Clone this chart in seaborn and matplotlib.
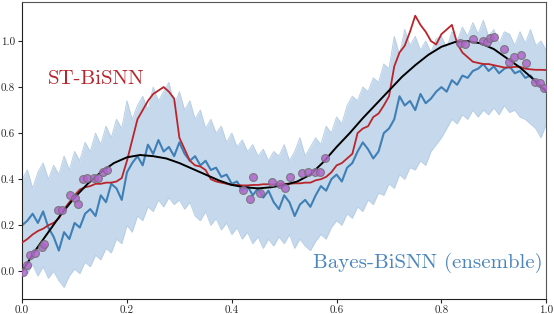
import numpy as np
import matplotlib.pyplot as plt
import seaborn as sns

# time axis shared by the network outputs
t = np.linspace(0, 1, 101)

# target function (black curve)
target_x = [0.000, 0.025, 0.050, 0.075, 0.100, 0.125, 0.150, 0.175, 0.200, 0.225,
            0.250, 0.275, 0.300, 0.325, 0.350, 0.375, 0.400, 0.425, 0.450, 0.475,
            0.500, 0.525, 0.550, 0.575, 0.600, 0.625, 0.650, 0.675, 0.700, 0.725,
            0.750, 0.775, 0.800, 0.825, 0.850, 0.875, 0.900, 0.925, 0.950, 0.975, 1.000]
target_y = [0.00, 0.09, 0.17, 0.25, 0.32, 0.38, 0.43, 0.47, 0.495, 0.505,
            0.50, 0.49, 0.47, 0.445, 0.42, 0.395, 0.375, 0.365, 0.36, 0.365,
            0.375, 0.39, 0.42, 0.475, 0.54, 0.60, 0.665, 0.725, 0.785, 0.845,
            0.895, 0.94, 0.975, 0.995, 1.00, 0.99, 0.965, 0.925, 0.885, 0.835, 0.78]

# training samples (purple circles)
pts_x = [0.002, 0.009, 0.015, 0.025, 0.038, 0.042, 0.069, 0.076, 0.092, 0.100,
         0.106, 0.117, 0.123, 0.138, 0.144, 0.155, 0.162,
         0.422, 0.435, 0.441, 0.453, 0.477, 0.492, 0.502, 0.511, 0.534, 0.546,
         0.559, 0.569, 0.578,
         0.836, 0.845, 0.861, 0.879, 0.887, 0.893, 0.901, 0.920, 0.928, 0.939,
         0.952, 0.962, 0.979, 0.989, 0.995]
pts_y = [-0.003, 0.026, 0.070, 0.078, 0.106, 0.117, 0.265, 0.265, 0.330, 0.320,
         0.294, 0.400, 0.403, 0.403, 0.407, 0.432, 0.442,
         0.355, 0.316, 0.410, 0.340, 0.388, 0.377, 0.360, 0.410, 0.427, 0.432,
         0.432, 0.432, 0.494,
         0.990, 0.987, 1.007, 1.001, 0.997, 1.012, 1.019, 0.964, 0.910, 0.929,
         0.939, 0.906, 0.823, 0.816, 0.794]

# ST-BiSNN output
st_bisnn = [0.125, 0.14, 0.16, 0.175, 0.185, 0.20, 0.21, 0.23, 0.27, 0.30,
            0.33, 0.355, 0.365, 0.37, 0.38, 0.38, 0.385, 0.385, 0.39, 0.405,
            0.48, 0.57, 0.66, 0.70, 0.74, 0.77, 0.785, 0.80, 0.78, 0.75,
            0.58, 0.53, 0.48, 0.46, 0.455, 0.44, 0.40, 0.39, 0.385, 0.38,
            0.375, 0.375, 0.373, 0.373, 0.375, 0.375, 0.378, 0.378, 0.377, 0.38,
            0.38, 0.38, 0.382, 0.382, 0.385, 0.385, 0.395, 0.40, 0.41, 0.43,
            0.46, 0.47, 0.49, 0.51, 0.60, 0.62, 0.63, 0.67, 0.685, 0.72,
            0.76, 0.89, 0.95, 0.98, 1.04, 1.11, 1.07, 1.04, 1.00, 0.985,
            1.03, 1.05, 1.07, 0.99, 0.95, 0.93, 0.91, 0.905, 0.90, 0.90,
            0.895, 0.89, 0.885, 0.885, 0.888, 0.888, 0.88, 0.877, 0.875, 0.875, 0.874]

# Bayes-BiSNN ensemble mean
bayes_mean = [0.20, 0.22, 0.25, 0.21, 0.26, 0.19, 0.15, 0.09, 0.17, 0.14,
              0.21, 0.19, 0.25, 0.27, 0.24, 0.33, 0.30, 0.38, 0.36, 0.31,
              0.43, 0.47, 0.50, 0.46, 0.55, 0.51, 0.57, 0.52, 0.54, 0.50,
              0.56, 0.51, 0.48, 0.50, 0.46, 0.48, 0.44, 0.45, 0.41, 0.42,
              0.38, 0.39, 0.35, 0.37, 0.33, 0.36, 0.32, 0.35, 0.30, 0.27,
              0.33, 0.30, 0.24, 0.29, 0.31, 0.28, 0.33, 0.37, 0.35, 0.40,
              0.42, 0.39, 0.45, 0.47, 0.52, 0.56, 0.53, 0.49, 0.52, 0.60,
              0.62, 0.66, 0.76, 0.72, 0.74, 0.70, 0.77, 0.73, 0.75, 0.78,
              0.80, 0.78, 0.83, 0.81, 0.85, 0.84, 0.87, 0.88, 0.90, 0.87,
              0.89, 0.86, 0.88, 0.89, 0.86, 0.87, 0.84, 0.85, 0.82, 0.80, 0.79]

# spread of the ensemble members
ens_hi = [0.40, 0.44, 0.36, 0.43, 0.47, 0.40, 0.46, 0.42, 0.50, 0.44,
          0.52, 0.48, 0.56, 0.52, 0.60, 0.55, 0.63, 0.58, 0.66, 0.62,
          0.74, 0.66, 0.72, 0.76, 0.70, 0.80, 0.74, 0.78, 0.82, 0.72,
          0.78, 0.70, 0.74, 0.66, 0.70, 0.62, 0.66, 0.60, 0.63, 0.56,
          0.60, 0.54, 0.57, 0.52, 0.55, 0.50, 0.53, 0.48, 0.52, 0.50,
          0.55, 0.48, 0.52, 0.58, 0.50, 0.54, 0.58, 0.55, 0.63, 0.60,
          0.67, 0.64, 0.72, 0.76, 0.74, 0.80, 0.78, 0.84, 0.82, 0.90,
          0.88, 1.02, 0.94, 1.05, 0.98, 1.02, 0.96, 1.00, 0.95, 1.01,
          1.02, 0.97, 1.04, 1.00, 1.06, 1.02, 1.08, 1.03, 1.09, 1.02,
          1.05, 0.99, 1.04, 1.03, 0.98, 1.04, 0.99, 1.05, 0.98, 1.00, 0.96]
ens_lo = [0.02, -0.01, 0.03, -0.02, 0.02, -0.03, 0.00, -0.04, -0.07, -0.02,
          0.01, -0.01, 0.04, 0.02, 0.07, 0.05, 0.10, 0.08, 0.14, 0.12,
          0.20, 0.17, 0.24, 0.22, 0.28, 0.26, 0.31, 0.28, 0.32, 0.29,
          0.31, 0.27, 0.30, 0.24, 0.22, 0.26, 0.20, 0.23, 0.18, 0.21,
          0.16, 0.19, 0.14, 0.17, 0.12, 0.15, 0.10, 0.14, 0.11, 0.15,
          0.12, 0.16, 0.10, 0.14, 0.11, 0.09, 0.13, 0.16, 0.14, 0.19,
          0.22, 0.20, 0.25, 0.23, 0.28, 0.26, 0.31, 0.29, 0.34, 0.33,
          0.38, 0.36, 0.42, 0.40, 0.45, 0.44, 0.48, 0.46, 0.52, 0.55,
          0.58, 0.62, 0.66, 0.64, 0.68, 0.66, 0.70, 0.67, 0.70, 0.68,
          0.71, 0.68, 0.72, 0.69, 0.70, 0.67, 0.66, 0.64, 0.62, 0.58, 0.64]

sns.set_style("ticks")
plt.rcParams["font.family"] = ["cmr10", "DejaVu Serif"]
plt.rcParams["mathtext.fontset"] = "cm"
plt.rcParams["axes.formatter.use_mathtext"] = True

fig, ax = plt.subplots(figsize=(5.54, 3.14), dpi=100)
fig.subplots_adjust(left=0.040, right=0.986, bottom=0.048, top=0.994)

band_c = "#c6d9ec"
ax.fill_between(t, ens_lo, ens_hi, color=band_c, lw=0, zorder=1)
sns.lineplot(x=t, y=ens_hi, color="#b9cfe6", lw=0.7, ax=ax, zorder=1)
sns.lineplot(x=t, y=ens_lo, color="#b9cfe6", lw=0.7, ax=ax, zorder=1)
sns.lineplot(x=t, y=bayes_mean, color="#3f7fb5", lw=1.5, ax=ax, zorder=2)
sns.lineplot(x=t, y=st_bisnn, color="#b9252b", lw=1.3, ax=ax, zorder=3)
sns.lineplot(x=target_x, y=target_y, color="black", lw=1.4, ax=ax, zorder=4)
sns.scatterplot(x=pts_x, y=pts_y, s=32, color="#b066cc", edgecolor="#707070",
                linewidth=0.8, alpha=0.85, ax=ax, zorder=5)

ax.text(0.05, 0.835, "ST-BiSNN", color="#b9252b", fontsize=15,
        ha="left", va="center")
ax.text(0.994, 0.035, "Bayes-BiSNN (ensemble)", color="#4a86bd", fontsize=15,
        ha="right", va="center")

ax.set_xlim(0, 1)
ax.set_ylim(-0.12, 1.17)
ax.set_xticks([0.0, 0.2, 0.4, 0.6, 0.8, 1.0])
ax.set_yticks([0.0, 0.2, 0.4, 0.6, 0.8, 1.0])
ax.set_xticklabels(["0.0", "0.2", "0.4", "0.6", "0.8", "1.0"])
ax.set_yticklabels(["0.0", "0.2", "0.4", "0.6", "0.8", "1.0"])
ax.tick_params(labelsize=8, length=3, width=0.8, pad=2)
for side in ["left", "bottom"]:
    ax.spines[side].set_color("#222222")
for side in ["top", "right"]:
    ax.spines[side].set_color("#555555")
    ax.spines[side].set_visible(True)

fig.savefig("out.png", dpi=100)
